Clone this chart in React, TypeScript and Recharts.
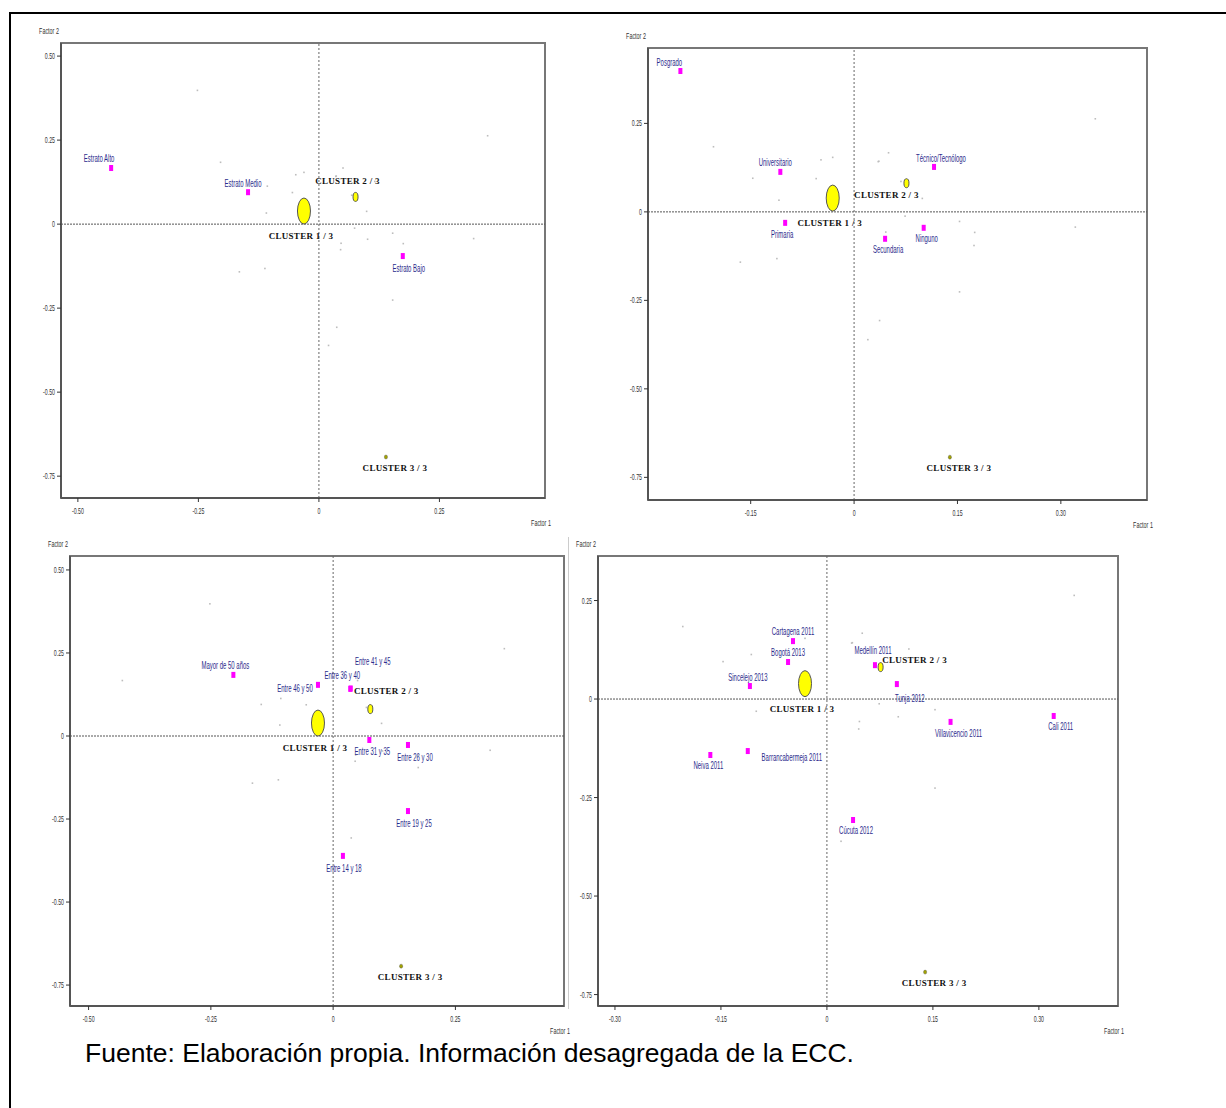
import React from 'react';
import { ScatterChart, Scatter, XAxis, YAxis, ReferenceLine, ReferenceArea } from 'recharts';

// Factor plane coordinates
const clusterNames = ['CLUSTER 1 / 3', 'CLUSTER 2 / 3', 'CLUSTER 3 / 3'];
const clusterX = [-0.031, 0.076, 0.139];
const clusterY = [0.039, 0.081, -0.693];

const estratoNames = ['Estrato Alto', 'Estrato Medio', 'Estrato Bajo'];
const estratoX = [-0.431, -0.147, 0.174];
const estratoY = [0.167, 0.095, -0.095];

const educNames = ['Posgrado', 'Universitario', 'Técnico/Tecnólogo', 'Primaria', 'Secundaria', 'Ninguno'];
const educX = [-0.252, -0.107, 0.116, -0.1, 0.045, 0.101];
const educY = [0.398, 0.113, 0.127, -0.031, -0.076, -0.045];

const edadNames = ['Mayor de 50 años', 'Entre 46 y 50', 'Entre 36 y 40', 'Entre 41 y 45', 'Entre 31 y 35', 'Entre 26 y 30', 'Entre 19 y 25', 'Entre 14 y 18'];
const edadX = [-0.204, -0.031, 0.035, 0.036, 0.074, 0.153, 0.153, 0.02];
const edadY = [0.184, 0.154, 0.142, 0.143, -0.012, -0.027, -0.226, -0.361];

const ciudadNames = ['Cartagena 2011', 'Bogotá 2013', 'Sincelejo 2013', 'Medellín 2011', 'Tunja 2012', 'Villavicencio 2011', 'Cali 2011', 'Neiva 2011', 'Barrancabermeja 2011', 'Cúcuta 2012'];
const ciudadX = [-0.048, -0.055, -0.109, 0.068, 0.099, 0.175, 0.321, -0.165, -0.112, 0.037];
const ciudadY = [0.147, 0.094, 0.033, 0.086, 0.038, -0.058, -0.043, -0.142, -0.132, -0.307];

// supplementary points without label
const otherX = [0.05, 0.35, 0.046];
const otherY = [0.167, 0.263, -0.057];

// axes
const xDomain1 = [-0.535, 0.469];
const yDomain1 = [-0.815, 0.539];
const xDomain2 = [-0.299, 0.425];
const yDomain2 = [-0.814, 0.463];
const xDomain3 = [-0.538, 0.472];
const yDomain3 = [-0.813, 0.542];
const xDomain4 = [-0.324, 0.412];
const yDomain4 = [-0.779, 0.363];
const ticksHalf = [-0.5, -0.25, 0, 0.25];
const ticksY6 = [-0.75, -0.5, -0.25, 0, 0.25, 0.5];
const ticksY5 = [-0.75, -0.5, -0.25, 0, 0.25];
const ticks15 = [-0.3, -0.15, 0, 0.15, 0.3];
const ticks15b = [-0.15, 0, 0.15, 0.3];

// label offsets (text centre relative to the point)
const labelOffset: Record<string, [number, number]> = {
  'Estrato Alto': [-12, -10], 'Estrato Medio': [-5, -9], 'Estrato Bajo': [6, 12],
  'Posgrado': [-11, -9], 'Universitario': [-5, -10], 'Técnico/Tecnólogo': [7, -9],
  'Primaria': [-3, 11], 'Secundaria': [3, 11], 'Ninguno': [3, 11],
  'Mayor de 50 años': [-8, -10], 'Entre 46 y 50': [-23, 3], 'Entre 36 y 40': [-8, -14],
  'Entre 41 y 45': [22, -27], 'Entre 31 y 35': [3, 11], 'Entre 26 y 30': [7, 12],
  'Entre 19 y 25': [6, 12], 'Entre 14 y 18': [1, 12],
  'Cartagena 2011': [0, -10], 'Bogotá 2013': [0, -10], 'Sincelejo 2013': [-2, -9],
  'Medellín 2011': [-2, -15], 'Tunja 2012': [13, 14], 'Villavicencio 2011': [8, 11],
  'Cali 2011': [7, 10], 'Neiva 2011': [-2, 10], 'Barrancabermeja 2011': [44, 6], 'Cúcuta 2012': [3, 10],
};

const SANS = "'Liberation Sans', Arial, sans-serif";
const SERIF = "'Liberation Serif', 'Times New Roman', serif";

const toPoints = (names: string[], xs: number[], ys: number[]) =>
  names.map((name, i) => ({ name, x: xs[i], y: ys[i] }));

const groups = [
  toPoints(estratoNames, estratoX, estratoY),
  toPoints(educNames, educX, educY),
  toPoints(edadNames, edadX, edadY),
  toPoints(ciudadNames, ciudadX, ciudadY),
];
const others = toPoints(otherX.map(() => ''), otherX, otherY);
const clusters = toPoints(clusterNames, clusterX, clusterY);

const fmt = (v: number) => (v === 0 ? '0' : v.toFixed(2));

const XTick = (p: any) => (
  <g transform={`translate(${p.x},${p.y + 7})`}>
    <text textAnchor="middle" dominantBaseline="central" fontSize={9.5} fontFamily={SANS} fill="#333" transform="scale(0.55,1)">
      {fmt(p.payload.value)}
    </text>
  </g>
);

const YTick = (p: any) => (
  <g transform={`translate(${p.x},${p.y})`}>
    <text textAnchor="end" dominantBaseline="central" fontSize={9.5} fontFamily={SANS} fill="#333" transform="scale(0.55,1)">
      {fmt(p.payload.value)}
    </text>
  </g>
);

const GrayDot = (p: any) => <rect x={p.cx - 0.8} y={p.cy - 0.8} width={1.6} height={1.6} fill="#bdbdbd" />;

const CategoryMark = (p: any) => {
  const name = p.payload?.name ?? p.name;
  const off = labelOffset[name] ?? [0, -10];
  return (
    <g>
      <rect x={p.cx - 2} y={p.cy - 3} width={4} height={6} fill="#ff00ff" />
      <g transform={`translate(${p.cx + off[0]},${p.cy + off[1]})`}>
        <text textAnchor="middle" dominantBaseline="central" fontSize={10.5} fontFamily={SANS} fill="#2b2b8c" transform="scale(0.57,1)">
          {name}
        </text>
      </g>
    </g>
  );
};

const clusterShape = (c2: [number, number]) => (p: any) => {
  const name = p.payload?.name ?? p.name;
  const i = clusterNames.indexOf(name);
  const rx = [6.5, 2.5, 1.6][i];
  const ry = [13, 4.5, 2][i];
  const off = i === 0 ? [-3, 25] : i === 1 ? c2 : [9, 11];
  return (
    <g>
      <ellipse cx={p.cx} cy={p.cy} rx={rx} ry={ry} fill={i === 2 ? '#a3a300' : '#ffff00'} stroke="#555" strokeWidth={i === 2 ? 0.4 : 1} />
      <text x={p.cx + off[0]} y={p.cy + off[1]} textAnchor="middle" dominantBaseline="central" fontSize={9} fontWeight="bold" fontFamily={SERIF} fill="#111" letterSpacing={0.3}>
        {name}
      </text>
    </g>
  );
};

type Plot = { left: number; top: number; right: number; bottom: number };

function Panel(props: {
  plot: Plot; xDomain: number[]; yDomain: number[]; xTicks: number[]; yTicks: number[];
  index: number; c2: [number, number];
}) {
  const { plot, xDomain, yDomain, xTicks, yTicks, index, c2 } = props;
  const box = { left: plot.left - 34, top: plot.top - 24, right: plot.right + 30, bottom: plot.bottom + 34 };
  const width = box.right - box.left;
  const height = box.bottom - box.top;
  const active = groups[index];
  const gray = [...groups.filter((_, i) => i !== index).flat(), ...others];
  const small: React.CSSProperties = {
    position: 'absolute', fontFamily: SANS, fontSize: 9, color: '#333', whiteSpace: 'nowrap', lineHeight: 1,
  };

  return (
    <div style={{ position: 'absolute', left: box.left, top: box.top, width, height }}>
      <ScatterChart width={width} height={height} margin={{ top: plot.top - box.top, right: box.right - plot.right, bottom: 0, left: 0 }}>
        <XAxis type="number" dataKey="x" domain={xDomain} ticks={xTicks} allowDataOverflow interval={0}
          height={box.bottom - plot.bottom} tickSize={4} tick={XTick}
          axisLine={{ stroke: '#555', strokeWidth: 2 }} tickLine={{ stroke: '#333' }} />
        <YAxis type="number" dataKey="y" domain={yDomain} ticks={yTicks} allowDataOverflow interval={0}
          width={plot.left - box.left} tickSize={4} tick={YTick}
          axisLine={{ stroke: '#555', strokeWidth: 2 }} tickLine={{ stroke: '#333' }} />
        <ReferenceArea x1={xDomain[0]} x2={xDomain[1]} y1={yDomain[0]} y2={yDomain[1]} fill="#fff" fillOpacity={0} stroke="#777" strokeWidth={2} />
        <ReferenceLine x={0} stroke="#666" strokeDasharray="2 2" />
        <ReferenceLine y={0} stroke="#555" strokeDasharray="2 1" />
        <Scatter data={gray} shape={GrayDot} isAnimationActive={false} />
        <Scatter data={active} shape={CategoryMark} isAnimationActive={false} />
        <Scatter data={clusters} shape={clusterShape(c2)} isAnimationActive={false} />
      </ScatterChart>
      <span style={{ ...small, left: plot.left - box.left - 12, top: plot.top - box.top - 12, transform: 'translate(-50%,-50%) scaleX(0.6)' }}>
        Factor 2
      </span>
      <span style={{ ...small, left: plot.right - box.left - 4, top: plot.bottom - box.top + 25, transform: 'translate(-50%,-50%) scaleX(0.6)' }}>
        Factor 1
      </span>
    </div>
  );
}

export default function App() {
  return (
    <div style={{ position: 'absolute', left: 0, top: 0, width: 1226, height: 1108, overflow: 'hidden', background: '#fff' }}>
      <div style={{ position: 'absolute', left: 9, top: 12, width: 1400, height: 1400, borderLeft: '2px solid #000', borderTop: '2px solid #000' }} />
      <div style={{ position: 'absolute', left: 568, top: 537, width: 0, height: 472, borderLeft: '1px solid #ccc' }} />
      <Panel plot={{ left: 61, top: 43, right: 545, bottom: 498 }} xDomain={xDomain1} yDomain={yDomain1} xTicks={ticksHalf} yTicks={ticksY6} index={0} c2={[-8, -16]} />
      <Panel plot={{ left: 648, top: 48, right: 1147, bottom: 500 }} xDomain={xDomain2} yDomain={yDomain2} xTicks={ticks15b} yTicks={ticksY5} index={1} c2={[-20, 12]} />
      <Panel plot={{ left: 70, top: 556, right: 564, bottom: 1006 }} xDomain={xDomain3} yDomain={yDomain3} xTicks={ticksHalf} yTicks={ticksY6} index={2} c2={[16, -18]} />
      <Panel plot={{ left: 598, top: 556, right: 1118, bottom: 1006 }} xDomain={xDomain4} yDomain={yDomain4} xTicks={ticks15} yTicks={ticksY5} index={3} c2={[34, -7]} />
      <div style={{ position: 'absolute', left: 85, top: 1040, fontFamily: SANS, fontSize: 26.5, lineHeight: 1, color: '#000', whiteSpace: 'nowrap' }}>
        Fuente: Elaboración propia. Información desagregada de la ECC.
      </div>
    </div>
  );
}
